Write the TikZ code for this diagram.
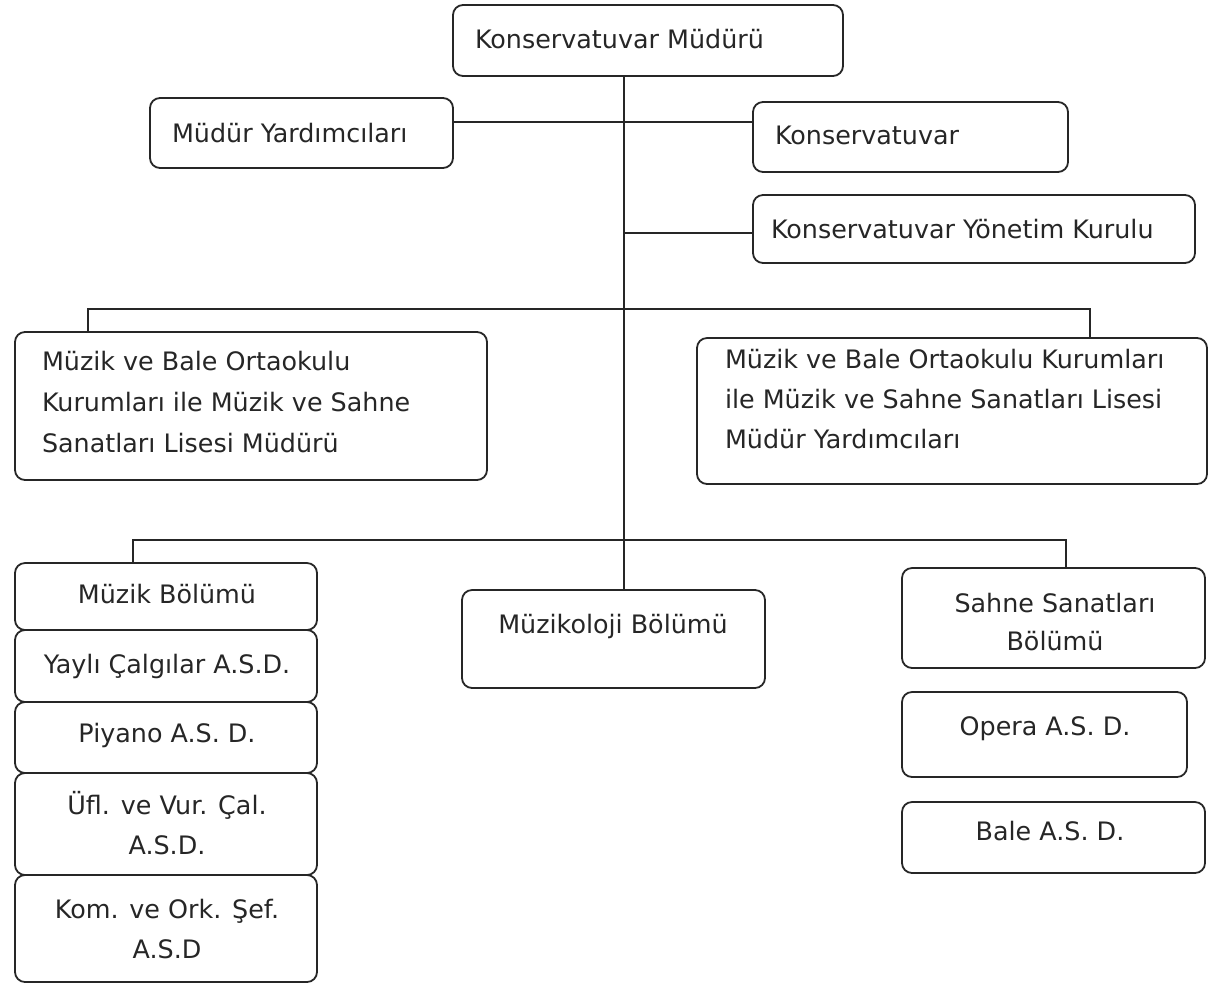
\documentclass[tikz,border=0pt]{standalone}
\usepackage{fontspec}
\setmainfont{DejaVu Sans}
\begin{document}
\begin{tikzpicture}[x=0.5pt,y=-0.5pt,
  bx/.style={draw=black!85,line width=0.9pt,rounded corners=5pt,inner sep=0pt,outer sep=0pt},
  tx/.style={inner sep=0pt,outer sep=0pt,font=\fontsize{12.7}{20.5}\selectfont,text=black!85},
  ln/.style={draw=black!85,line width=0.8pt}]
\useasboundingbox (0,0) rectangle (1208,987);
\newcommand\bx[5]{\node[bx,minimum width={(#4-#2)*0.5pt},minimum height={(#5-#3)*0.5pt}] (#1) at ({(#2+#4)/2},{(#3+#5)/2}) {};}
% boxes
\bx{top}{453}{5}{843}{76}
\bx{mdy}{150}{98}{453}{168}
\bx{kons}{753}{102}{1068}{172}
\bx{ykur}{753}{195}{1195}{263}
\bx{lb}{15}{332}{487}{480}
\bx{rb}{697}{338}{1207}{484}
\bx{mzb}{15}{563}{317}{630}
\bx{yayli}{15}{630}{317}{702}
\bx{piy}{15}{702}{317}{773}
\bx{ufl}{15}{773}{317}{875}
\bx{kom}{15}{875}{317}{982}
\bx{mzk}{462}{590}{765}{688}
\bx{sahne}{902}{568}{1205}{668}
\bx{opera}{902}{692}{1187}{777}
\bx{bale}{902}{802}{1205}{873}
% texts
\node[tx,anchor=base west] (ttop) at (475,48) {Konservatuvar Müdürü};
\node[tx,anchor=base west] (tmdy) at (172,142) {Müdür Yardımcıları};
\node[tx,anchor=base west] (tkons) at (775,144) {Konservatuvar};
\node[tx,anchor=base west] (tykur) at (771,238) {Konservatuvar Yönetim Kurulu};
\node[tx,anchor=base west] (tlb1) at (42,370) {Müzik ve Bale Ortaokulu};
\node[tx,anchor=base west] (tlb2) at (42,411) {Kurumları ile Müzik ve Sahne};
\node[tx,anchor=base west] (tlb3) at (42,452) {Sanatları Lisesi Müdürü};
\node[tx,anchor=base west] (trb1) at (725,368) {Müzik ve Bale Ortaokulu Kurumları};
\node[tx,anchor=base west] (trb2) at (725,408) {ile Müzik ve Sahne Sanatları Lisesi};
\node[tx,anchor=base west] (trb3) at (725,448) {Müdür Yardımcıları};
\node[tx,anchor=base] (tmzb) at (167,603) {Müzik Bölümü};
\node[tx,anchor=base] (tyayli) at (167,673) {Yaylı Çalgılar A.S.D.};
\node[tx,anchor=base] (tpiy) at (167,742) {Piyano A.S. D.};
\node[tx,anchor=base] (tufl1) at (167,814) {Üfl. ve Vur. Çal.};
\node[tx,anchor=base] (tufl2) at (167,854) {A.S.D.};
\node[tx,anchor=base] (tkom1) at (167,918) {Kom. ve Ork. Şef.};
\node[tx,anchor=base] (tkom2) at (167,958) {A.S.D};
\node[tx,anchor=base] (tmzk) at (613,633) {Müzikoloji Bölümü};
\node[tx,anchor=base] (tsahne1) at (1055,612) {Sahne Sanatları};
\node[tx,anchor=base] (tsahne2) at (1055,650) {Bölümü};
\node[tx,anchor=base] (topera) at (1045,735) {Opera A.S. D.};
\node[tx,anchor=base] (tbale) at (1050,840) {Bale A.S. D.};
% connectors
\coordinate (trunk) at (624,0);
\coordinate (c1) at (624,122);
\coordinate (c2) at (624,233);
\coordinate (b1l) at (88,309);
\coordinate (b1r) at (1090,309);
\coordinate (b2l) at (133,540);
\coordinate (b2r) at (1066,540);
\draw[ln] (trunk |- top.south) -- (trunk |- mzk.north);
\draw[ln] (mdy.east |- c1) -- (kons.west |- c1);
\draw[ln] (c2) -- (ykur.west |- c2);
\draw[ln] (b1l |- lb.north) -- (b1l) -- (b1r) -- (b1r |- rb.north);
\draw[ln] (b2l |- mzb.north) -- (b2l) -- (b2r) -- (b2r |- sahne.north);
\end{tikzpicture}
\end{document}
